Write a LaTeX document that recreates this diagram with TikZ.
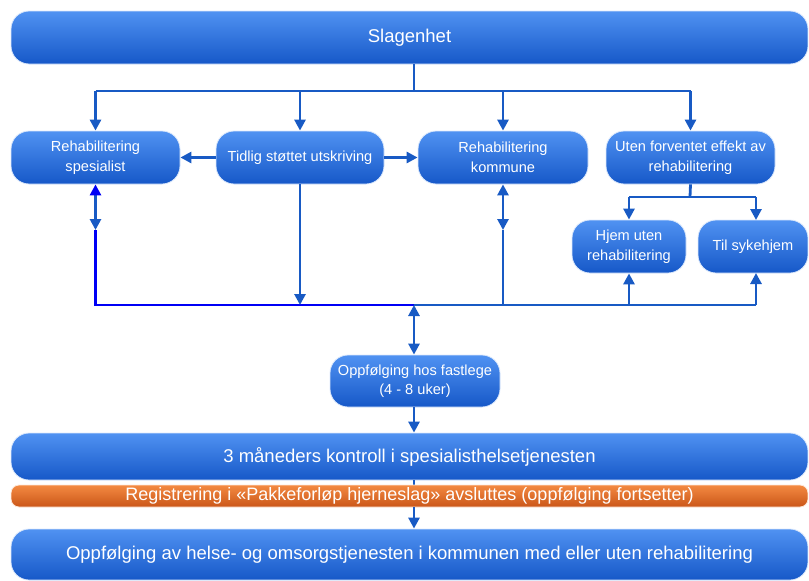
\documentclass[tikz,border=0pt]{standalone}
\usepackage{fontspec}
\setmainfont{Liberation Sans}
\usetikzlibrary{arrows.meta}

\definecolor{boxtop}{RGB}{80,146,242}
\definecolor{boxbot}{RGB}{22,88,200}
\definecolor{linje}{RGB}{24,90,196}
\definecolor{blaa}{RGB}{0,0,245}
\definecolor{orgtop}{RGB}{244,138,66}
\definecolor{orgbot}{RGB}{202,86,24}

\begin{document}
\begin{tikzpicture}[x=1pt,y=-1pt,
  boks/.style={rectangle,rounded corners=18pt,top color=boxtop,bottom color=boxbot,
    draw=white!80!boxtop,line width=.8pt,text=white,align=center,inner sep=2pt},
  liten/.style={boks,minimum height=53pt,font=\fontsize{14.6}{19.5}\selectfont},
  stor/.style={boks,minimum width=797pt,font=\fontsize{18.5}{21}\selectfont},
  linje/.style={draw=linje,line width=2.8pt},
  pil/.style={linje,-{Triangle[width=11pt,length=11pt]}},
  dpil/.style={linje,{Triangle[width=11pt,length=11pt]}-{Triangle[width=11pt,length=11pt]}}]
\useasboundingbox (0,0) rectangle (809,581);

\node[stor,minimum height=53pt] (slag) at (409.5,37.5) {Slagenhet};

\node[liten,minimum width=169pt] (rspes) at (95.5,157.5) {Rehabilitering\\spesialist};
\node[liten,minimum width=168pt] (tidlig) at (300,157.5) {Tidlig støttet utskriving};
\node[liten,minimum width=170pt] (rkomm) at (503,157.5) {Rehabilitering\\kommune};
\node[liten,minimum width=169pt] (uten) at (690.5,157.5) {Uten forventet effekt av\\rehabilitering};
\node[liten,minimum width=114pt] (hjem) at (629,246.5) {Hjem uten\\rehabilitering};
\node[liten,minimum width=110pt] (syke) at (753,246.5) {Til sykehjem};
\node[liten,minimum width=170pt,minimum height=52pt] (fast) at (415,381) {Oppfølging hos fastlege\\(4 - 8 uker)};

\node[stor,minimum height=47pt] (kontroll) at (409.5,456.5) {3 måneders kontroll i spesialisthelsetjenesten};
\node[stor,minimum height=51pt] (kommune) at (409.5,554.5) {Oppfølging av helse- og omsorgstjenesten i kommunen med eller uten rehabilitering};

\coordinate (top) at (414,91);
\coordinate (lo) at (414,230);
\coordinate (bus) at (414,305);
\coordinate (mid) at (690,197);

% fra slagenhet
\draw[linje] (top |- slag.south) -- (top);
\draw[linje] (top -| rspes) -- (top -| uten);
\foreach \n in {rspes,tidlig,rkomm,uten}
  \draw[pil] (top -| \n) -- (\n.north);

\draw[pil] (tidlig.west) -- (rspes.east);
\draw[pil] (tidlig.east) -- (rkomm.west);

% ned mot fastlege
\draw[draw=blaa,line width=2.8pt] (rspes |- lo) |- (bus);
\draw[linje,{Triangle[width=11pt,length=11pt,color=blaa]}-{Triangle[width=11pt,length=11pt]}]
  (rspes.south) -- (rspes |- lo);
\draw[pil] (tidlig.south) -- (tidlig |- bus);
\draw[linje] (rkomm |- lo) -- (rkomm |- bus);
\draw[dpil] (rkomm.south) -- (rkomm |- lo);
\draw[linje] (bus) -- (756,305);
\draw[pil] (hjem |- bus) -- (hjem.south);
\draw[pil] (756,305) -- (756,273);

\draw[linje] (uten.south) -- (mid);
\draw[linje] (mid -| hjem) -- (756,197);
\draw[pil] (mid -| hjem) -- (hjem.north);
\draw[pil] (756,197) -- (756,220);

\draw[dpil] (bus) -- (bus |- fast.north);
\draw[pil] (fast.south -| bus) -- (kontroll.north -| bus);

\draw[linje] (kontroll.south -| bus) -- ++(0,8);
\node[boks,rounded corners=8pt,top color=orgtop,bottom color=orgbot,draw=white!80!orgtop,
  minimum width=797pt,minimum height=22pt,inner sep=0pt,font=\fontsize{18}{20}\selectfont]
  (reg) at (409.5,496) {Registrering i «Pakkeforløp hjerneslag» avsluttes (oppfølging fortsetter)};
\draw[pil] (reg.south -| bus) -- (kommune.north -| bus);
\end{tikzpicture}
\end{document}
